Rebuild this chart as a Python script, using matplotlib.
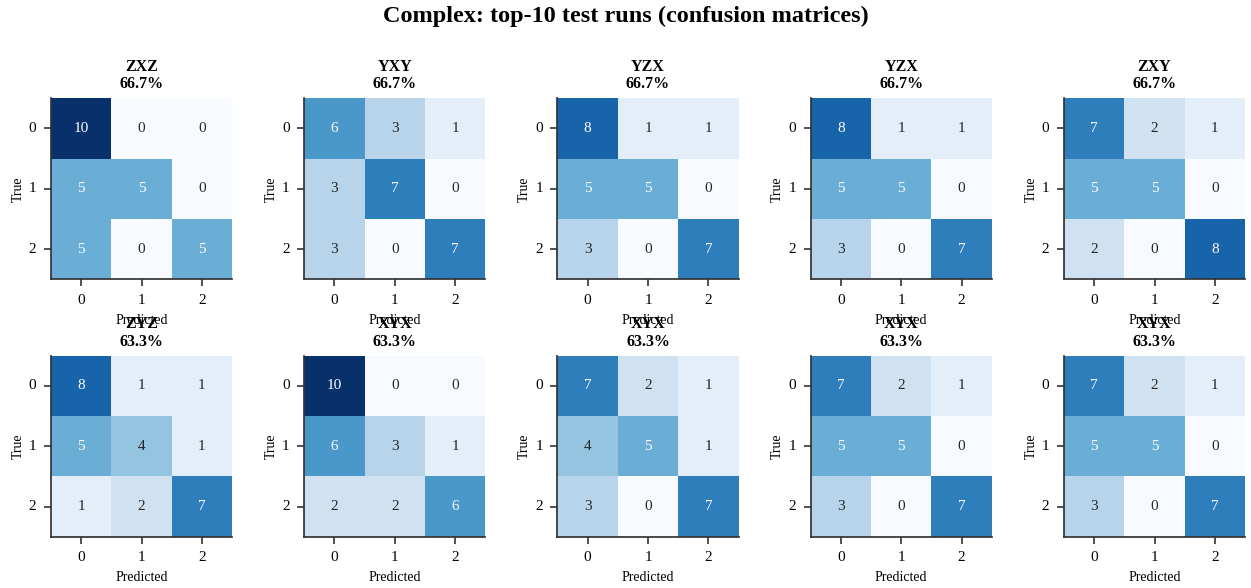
import numpy as np
import matplotlib
matplotlib.use("Agg")
import matplotlib.pyplot as plt
import seaborn as sns

# Top-10 test runs: rotation order label and 3x3 confusion matrix (rows = true, cols = predicted)
run_names = ["ZXZ", "YXY", "YZX", "YZX", "ZXY",
             "ZYZ", "XYX", "XYX", "XYX", "XYX"]

cm_zxz = [[10, 0, 0], [5, 5, 0], [5, 0, 5]]
cm_yxy = [[6, 3, 1], [3, 7, 0], [3, 0, 7]]
cm_yzx_a = [[8, 1, 1], [5, 5, 0], [3, 0, 7]]
cm_yzx_b = [[8, 1, 1], [5, 5, 0], [3, 0, 7]]
cm_zxy = [[7, 2, 1], [5, 5, 0], [2, 0, 8]]
cm_zyz = [[8, 1, 1], [5, 4, 1], [1, 2, 7]]
cm_xyx_a = [[10, 0, 0], [6, 3, 1], [2, 2, 6]]
cm_xyx_b = [[7, 2, 1], [4, 5, 1], [3, 0, 7]]
cm_xyx_c = [[7, 2, 1], [5, 5, 0], [3, 0, 7]]
cm_xyx_d = [[7, 2, 1], [5, 5, 0], [3, 0, 7]]

matrices = [cm_zxz, cm_yxy, cm_yzx_a, cm_yzx_b, cm_zxy,
            cm_zyz, cm_xyx_a, cm_xyx_b, cm_xyx_c, cm_xyx_d]
class_labels = ["0", "1", "2"]

sns.set_style("ticks")
plt.rcParams.update({
    "font.family": ["Liberation Serif", "DejaVu Serif"],
    "text.color": "black",
    "axes.labelcolor": "black",
    "axes.edgecolor": "#333333",
    "axes.linewidth": 1.25,
    "xtick.major.width": 1.2,
    "ytick.major.width": 1.2,
    "xtick.major.size": 5,
    "ytick.major.size": 5,
    "xtick.major.pad": 5.5,
    "ytick.major.pad": 5.5,
    "xtick.color": "#333333",
    "ytick.color": "#333333",
    "xtick.labelcolor": "black",
    "ytick.labelcolor": "black",
})

fig, axes = plt.subplots(2, 5, figsize=(12.51, 5.88), dpi=100)
fig.subplots_adjust(left=0.040, right=0.996, bottom=0.087, top=0.833,
                    wspace=0.384, hspace=0.42)

for ax, name, cm in zip(axes.flat, run_names, matrices):
    cm = np.array(cm)
    acc = np.trace(cm) / cm.sum() * 100
    sns.heatmap(cm, ax=ax, annot=True, fmt="d", cmap="Blues", vmin=0, vmax=10,
                cbar=False, square=True, annot_kws={"size": 11},
                xticklabels=class_labels, yticklabels=class_labels)
    ax.set_title(f"{name}\n{acc:.1f}%", fontsize=11.5, fontweight="bold",
                 linespacing=1.15, pad=7)
    ax.set_xlabel("Predicted", fontsize=10, labelpad=5)
    ax.set_ylabel("True", fontsize=10, labelpad=3)
    ax.tick_params(labelsize=11, rotation=0)
    for side in ["left", "bottom"]:
        ax.spines[side].set_visible(True)
    for side in ["top", "right"]:
        ax.spines[side].set_visible(False)

fig.suptitle("Complex: top-10 test runs (confusion matrices)",
             fontsize=17.5, fontweight="bold", y=0.972, va="center")

fig.savefig("out.png", dpi=100)
